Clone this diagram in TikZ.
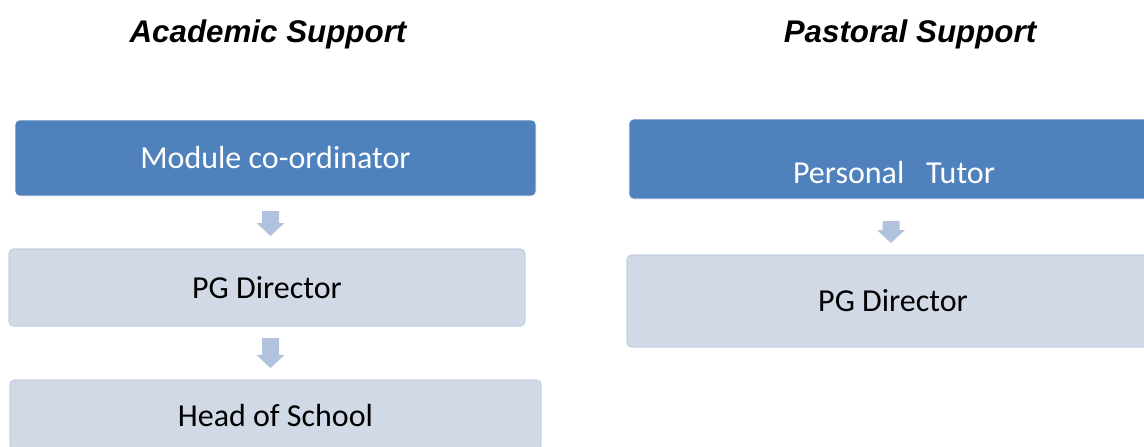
\documentclass[tikz,border=0pt]{standalone}
\usepackage{fontspec}
\setmainfont{Carlito}
\newfontfamily\headfont{Liberation Sans}

\definecolor{darkbox}{HTML}{4F81BD}
\definecolor{lightbox}{HTML}{D1D9E7}
\definecolor{lightedge}{HTML}{C6D1E4}
\definecolor{arrowfill}{HTML}{B1C2DE}

\tikzset{
  darkstage/.style={rectangle,rounded corners=3.5pt,fill=darkbox,draw=white,
    text=white,font=\fontsize{24}{28}\selectfont,inner sep=0pt},
  lightstage/.style={rectangle,rounded corners=3.5pt,fill=lightbox,draw=lightedge,
    line width=1pt,text=black,font=\fontsize{24}{28}\selectfont,inner sep=0pt},
  heading/.style={font=\headfont\bfseries\itshape\fontsize{23.5}{28}\selectfont}
}

\begin{document}
\begin{tikzpicture}[x=0.75pt,y=0.75pt]
  % Frame
  \useasboundingbox (0,0) rectangle (1144,-446);

  % Headings
  \node[heading] (acad) at (268,-34) {Academic Support};
  \node[heading] (past) at (910,-34) {Pastoral Support};

  % Academic column
  \node[darkstage,minimum width=521*0.75pt,minimum height=76*0.75pt] (modco) at (275.5,-158) {Module co-ordinator};
  \node[lightstage,minimum width=516*0.75pt,minimum height=77*0.75pt] (pgdir) at (267,-287.5) {PG Director};
  \node[lightstage,minimum width=531*0.75pt,minimum height=70*0.75pt] (head) at (275.5,-415) {Head of School};

  % Pastoral column
  \node[darkstage,minimum width=530*0.75pt,minimum height=80*0.75pt,
    text height=36pt,text depth=0pt] (tutor) at (894,-159) {Personal\ \ \ Tutor};
  \node[lightstage,minimum width=532*0.75pt,minimum height=92*0.75pt] (pgdir2) at (893,-301) {PG Director};

  % Block arrows between the stages
  \foreach \x/\t/\b in {270.5/211/236, 270.5/338/368, 891/221/243} {
    \fill[arrowfill] (\x-8.5,-\t) -- (\x+8.5,-\t) -- (\x+8.5,-\b+13) -- (\x+14,-\b+13)
      -- (\x,-\b) -- (\x-14,-\b+13) -- (\x-8.5,-\b+13) -- cycle;
  }
\end{tikzpicture}
\end{document}
